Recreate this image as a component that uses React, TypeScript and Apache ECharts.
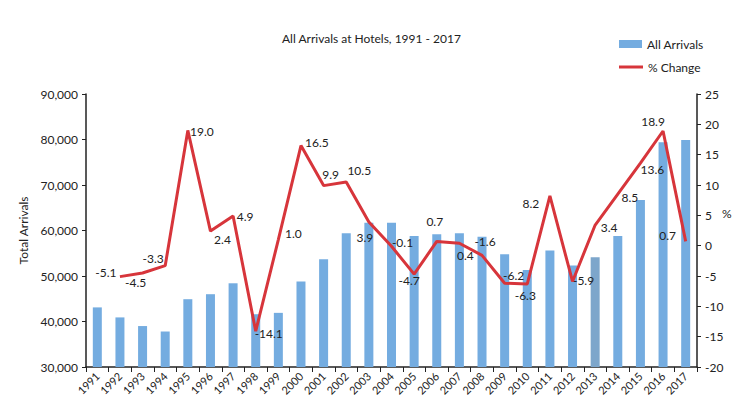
import React, { useEffect, useRef } from "react";
import * as echarts from "echarts";

const years = [
  "1991", "1992", "1993", "1994", "1995", "1996", "1997", "1998", "1999",
  "2000", "2001", "2002", "2003", "2004", "2005", "2006", "2007", "2008",
  "2009", "2010", "2011", "2012", "2013", "2014", "2015", "2016", "2017",
];

const arrivals = [
  43100, 40900, 39000, 37800, 44900, 46000, 48400, 41600, 41900,
  48800, 53700, 59400, 61700, 61700, 58800, 59200, 59400, 58600,
  54800, 51300, 55600, 52300, 54100, 58800, 66700, 79400, 79900,
];

const pctChange: (number | null)[] = [
  null, -5.1, -4.5, -3.3, 19.0, 2.4, 4.9, -14.1, 1.0,
  16.5, 9.9, 10.5, 3.9, -0.1, -4.7, 0.7, 0.4, -1.6,
  -6.2, -6.3, 8.2, -5.9, 3.4, 8.5, 13.6, 18.9, 0.7,
];

// label nudges (px) from each point of the % line
const labelOffsets: [number, number][] = [
  [0, 0], [-14, -4], [-7, 10], [-12, -7], [14, 1], [12, 8], [12, 1], [13, 2], [15, -6],
  [16, -3], [7, -11], [13, -11], [-4, 15], [11, -4], [-5, 6], [-2, -20], [6, 12], [3, -14],
  [9, -8], [-2, 12], [-19, 8], [11, -1], [14, 2], [12, 3], [12, 6], [-10, -10], [-18, -6],
];

const FONT = "Lato, 'Open Sans', sans-serif";
const BAR = "#74ACE0";
const LINE = "#D7353B";

export default function App() {
  const ref = useRef<HTMLDivElement>(null);

  useEffect(() => {
    if (!ref.current) return;
    const chart = echarts.init(ref.current, null, { renderer: "svg" });

    const legendText = { fontFamily: FONT, fontSize: 12, color: "#222" };

    chart.setOption({
      animation: false,
      textStyle: { fontFamily: FONT },
      title: {
        text: "All Arrivals at Hotels, 1991 - 2017",
        left: 277,
        top: 27,
        textStyle: { fontFamily: FONT, fontSize: 12, fontWeight: "normal", color: "#222" },
      },
      legend: [
        {
          left: 614,
          top: 33,
          itemWidth: 23,
          itemHeight: 8,
          textStyle: legendText,
          data: [{ name: "All Arrivals", icon: "rect" }],
        },
        {
          left: 614,
          top: 56,
          itemWidth: 24,
          itemHeight: 3,
          textStyle: legendText,
          data: [{ name: "% Change", icon: "rect" }],
        },
      ],
      grid: { left: 86, right: 53, top: 94, bottom: 47, containLabel: false },
      xAxis: {
        type: "category",
        data: years,
        boundaryGap: true,
        axisLine: { onZero: false, lineStyle: { color: "#222", width: 1.5 } },
        axisTick: { show: true, alignWithLabel: false, length: 5, lineStyle: { color: "#222" } },
        axisLabel: {
          rotate: 45,
          interval: 0,
          fontSize: 11,
          color: "#222",
          margin: 7,
          fontFamily: FONT,
        },
      },
      yAxis: [
        {
          type: "value",
          min: 30000,
          max: 90000,
          interval: 10000,
          name: "Total Arrivals",
          nameLocation: "middle",
          nameGap: 54,
          nameTextStyle: { fontSize: 12, color: "#222", fontFamily: FONT },
          axisLine: { show: true, lineStyle: { color: "#222", width: 1.5 } },
          axisTick: { show: true, length: 4, lineStyle: { color: "#222" } },
          splitLine: { show: false },
          axisLabel: {
            fontSize: 12,
            color: "#222",
            margin: 8,
            formatter: (v: number) => v.toLocaleString("en-US"),
          },
        },
        {
          type: "value",
          min: -20,
          max: 25,
          interval: 5,
          position: "right",
          axisLine: { show: true, lineStyle: { color: "#222", width: 1.5 } },
          axisTick: { show: true, length: 4, lineStyle: { color: "#222" } },
          splitLine: { show: false },
          axisLabel: { fontSize: 12, color: "#222", margin: 8 },
        },
      ],
      graphic: [
        {
          type: "text",
          left: 722,
          top: 207,
          style: { text: "%", fontSize: 12, fill: "#222", fontFamily: FONT },
        },
      ],
      series: [
        {
          name: "All Arrivals",
          type: "bar",
          yAxisIndex: 0,
          barWidth: 9,
          data: arrivals.map((v, i) =>
            years[i] === "2013" ? { value: v, itemStyle: { color: "#7DA6CB" } } : v
          ),
          itemStyle: { color: BAR },
        },
        {
          name: "% Change",
          type: "line",
          yAxisIndex: 1,
          symbol: "circle",
          symbolSize: 0,
          showSymbol: true,
          data: pctChange,
          lineStyle: { color: LINE, width: 3 },
          itemStyle: { color: LINE },
          z: 3,
          labelLayout: (p: any) => {
            const o = labelOffsets[p.dataIndex] || [0, 0];
            return { dx: o[0], dy: o[1], hideOverlap: false };
          },
          label: {
            show: true,
            position: "inside",
            fontSize: 12,
            color: "#222",
            fontFamily: FONT,
            align: "center",
            verticalAlign: "middle",
            formatter: (p: any) => (p.value == null ? "" : Number(p.value).toFixed(1)),
          },
        },
      ],
    });

    return () => chart.dispose();
  }, []);

  return <div ref={ref} style={{ width: 750, height: 414, margin: -8 }} />;
}
